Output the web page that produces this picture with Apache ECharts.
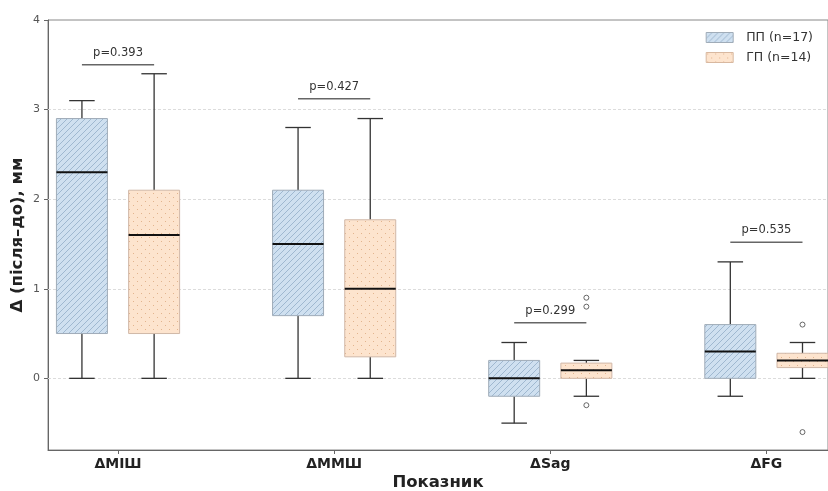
<!DOCTYPE html>
<html><head><meta charset="utf-8">
<script src="https://cdn.jsdelivr.net/npm/echarts@6/dist/echarts.min.js"></script>
<style>html,body{margin:0;padding:0;background:#fff}#c{width:828px;height:491px}</style>
</head><body><div id="c"></div>
<script>
const categories = ['ΔМІШ', 'ΔММШ', 'ΔSag', 'ΔFG'];
const groupNames = ['ПП (n=17)', 'ГП (n=14)'];
// [min whisker, Q1, median, Q3, max whisker]
const ppStats = [[0, 0.5, 2.3, 2.9, 3.1], [0, 0.7, 1.5, 2.1, 2.8], [-0.5, -0.2, 0.0, 0.2, 0.4], [-0.2, 0.0, 0.3, 0.6, 1.3]];
const gpStats = [[0, 0.5, 1.6, 2.1, 3.4], [0, 0.24, 1.0, 1.77, 2.9], [-0.2, 0.0, 0.09, 0.17, 0.2], [0, 0.12, 0.2, 0.28, 0.4]];
const ppOutliers = [[], [], [], []];
const gpOutliers = [[], [], [-0.3, 0.8, 0.9], [-0.6, 0.6]];
const pLabels = ['p=0.393', 'p=0.427', 'p=0.299', 'p=0.535'];
const pLineY = [3.5, 3.12, 0.62, 1.52];
const yTicks = [0, 1, 2, 3, 4];
const gridValues = [0, 1, 2, 3];

const OFFSET = 0.167, BOX_W = 0.236;
const FONT = 'DejaVu Sans';

function hatchPattern() {
  const c = document.createElement('canvas'); c.width = 6; c.height = 6;
  const g = c.getContext('2d');
  g.fillStyle = '#cfe0f0'; g.fillRect(0, 0, 6, 6);
  g.strokeStyle = '#9fb8d0'; g.lineWidth = 1;
  g.beginPath();
  g.moveTo(-1, 7); g.lineTo(7, -1);
  g.moveTo(-4, 4); g.lineTo(4, -4);
  g.moveTo(2, 10); g.lineTo(10, 2);
  g.stroke();
  return { image: c, repeat: 'repeat' };
}
function dotPattern() {
  const c = document.createElement('canvas'); c.width = 8; c.height = 8;
  const g = c.getContext('2d');
  g.fillStyle = '#fde4ce'; g.fillRect(0, 0, 8, 8);
  g.fillStyle = '#e2b48e';
  g.fillRect(1, 1, 1, 1); g.fillRect(5, 5, 1, 1);
  return { image: c, repeat: 'repeat' };
}
const ppFill = hatchPattern(), gpFill = dotPattern();

function boxRender(offset, fill, border) {
  return function (params, api) {
    const x = api.value(0) + offset;
    const mn = api.coord([x, api.value(1)]);
    const q1 = api.coord([x, api.value(2)]);
    const md = api.coord([x, api.value(3)]);
    const q3 = api.coord([x, api.value(4)]);
    const mx = api.coord([x, api.value(5)]);
    const bw = api.size([BOX_W, 0])[0];
    const cx = mn[0];
    const wl = { stroke: '#333', lineWidth: 1.3 };
    return {
      type: 'group', children: [
        { type: 'line', shape: { x1: cx, y1: q3[1], x2: cx, y2: mx[1] }, style: wl },
        { type: 'line', shape: { x1: cx - bw / 4, y1: mx[1], x2: cx + bw / 4, y2: mx[1] }, style: wl },
        { type: 'line', shape: { x1: cx, y1: q1[1], x2: cx, y2: mn[1] }, style: wl },
        { type: 'line', shape: { x1: cx - bw / 4, y1: mn[1], x2: cx + bw / 4, y2: mn[1] }, style: wl },
        { type: 'rect', shape: { x: cx - bw / 2, y: q3[1], width: bw, height: q1[1] - q3[1] }, style: { fill: fill, stroke: border, lineWidth: 1 } },
        { type: 'line', shape: { x1: cx - bw / 2, y1: md[1], x2: cx + bw / 2, y2: md[1] }, style: { stroke: '#111', lineWidth: 2 } }
      ]
    };
  };
}

function statData(stats) { return stats.map((s, i) => [i].concat(s)); }
function outlierData(outs, offset) {
  const d = [];
  outs.forEach((arr, i) => arr.forEach(v => d.push([i + offset, v])));
  return d;
}

const chart = echarts.init(document.getElementById('c'), null, { renderer: 'canvas' });
chart.setOption({
  animation: false,
  textStyle: { fontFamily: FONT },
  grid: { left: 48, right: 0, top: 20, bottom: 41, outerBoundsMode: 'none', containLabel: false, show: true, borderColor: '#888', borderWidth: 1, backgroundColor: 'transparent' },
  legend: {
    orient: 'vertical', right: 10, top: 26, itemWidth: 27, itemHeight: 10, itemGap: 7,
    textStyle: { fontFamily: FONT, fontSize: 12.5, color: '#333', padding: [0, 0, 0, 8] },
    data: [
      { name: groupNames[0], icon: 'rect', itemStyle: { color: ppFill, borderColor: '#a0acb8', borderWidth: 1 } },
      { name: groupNames[1], icon: 'rect', itemStyle: { color: gpFill, borderColor: '#d8b8a0', borderWidth: 1 } }
    ]
  },
  xAxis: {
    type: 'value', min: -0.324, max: 3.285,
    name: 'Показник', nameLocation: 'middle', nameGap: 24, nameMoveOverlap: false,
    nameTextStyle: { fontFamily: FONT, fontSize: 16.5, fontWeight: 'bold', color: '#222' },
    axisLine: { show: true, onZero: false, lineStyle: { color: '#666', width: 1 } },
    axisTick: { show: true, length: 4, lineStyle: { color: '#666' }, customValues: [0, 1, 2, 3] },
    axisLabel: { customValues: [0, 1, 2, 3], formatter: v => categories[Math.round(v)], fontFamily: FONT, fontSize: 14, fontWeight: 'bold', color: '#222', margin: 7 },
    splitLine: { show: false }
  },
  yAxis: {
    type: 'value', min: -0.8, max: 4,
    name: 'Δ (після–до), мм', nameLocation: 'middle', nameGap: 22, nameMoveOverlap: false,
    nameTextStyle: { fontFamily: FONT, fontSize: 16.5, fontWeight: 'bold', color: '#222' },
    axisLine: { show: true, onZero: false, lineStyle: { color: '#666', width: 1 } },
    axisTick: { show: true, length: 4, lineStyle: { color: '#666' }, customValues: yTicks },
    axisLabel: { customValues: yTicks, fontFamily: FONT, fontSize: 11, color: '#555', margin: 8 },
    splitLine: { show: false }
  },
  series: [
    {
      type: 'scatter', data: [], z: 1, silent: true,
      markLine: {
        silent: true, symbol: 'none', label: { show: false }, z: 1,
        lineStyle: { color: '#dcdcdc', type: [3, 2], width: 1 },
        data: gridValues.map(v => ({ yAxis: v }))
      }
    },
    {
      name: groupNames[0], type: 'custom', renderItem: boxRender(-OFFSET, ppFill, '#a0acb8'),
      itemStyle: { color: ppFill, borderColor: '#a0acb8' },
      data: statData(ppStats), encode: { x: 0, y: [1, 5] }, z: 3
    },
    {
      name: groupNames[1], type: 'custom', renderItem: boxRender(OFFSET, gpFill, '#d0b8a8'),
      itemStyle: { color: gpFill, borderColor: '#d8b8a0' },
      data: statData(gpStats), encode: { x: 0, y: [1, 5] }, z: 3
    },
    {
      type: 'scatter', data: outlierData(ppOutliers, -OFFSET).concat(outlierData(gpOutliers, OFFSET)),
      symbol: 'circle', symbolSize: 5, z: 4,
      itemStyle: { color: '#fff', borderColor: '#444', borderWidth: 1 }
    },
    {
      type: 'custom', z: 5,
      data: pLineY.map((y, i) => [i, y]),
      renderItem: function (params, api) {
        const i = api.value(0), y = api.value(1);
        const a = api.coord([i - OFFSET, y]), b = api.coord([i + OFFSET, y]);
        return {
          type: 'group', children: [
            { type: 'line', shape: { x1: a[0], y1: a[1], x2: b[0], y2: b[1] }, style: { stroke: '#666', lineWidth: 1.5 } },
            { type: 'text', x: (a[0] + b[0]) / 2, y: a[1] - 6, style: { text: pLabels[i], fill: '#333', font: '11.5px "DejaVu Sans"', align: 'center', verticalAlign: 'bottom' } }
          ]
        };
      }
    }
  ]
});
</script></body></html>
